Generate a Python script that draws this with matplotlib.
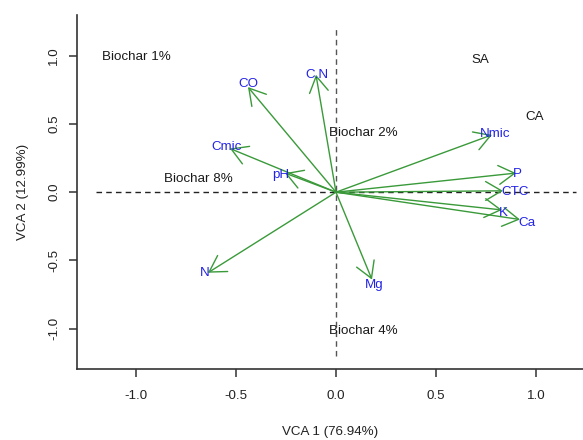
import matplotlib
matplotlib.use("Agg")
import matplotlib.pyplot as plt

plt.rcParams['font.family'] = ['Liberation Sans', 'DejaVu Sans']

# variable arrows (tips) and where their labels sit
var_names = ['CO', 'C.N', 'Cmic', 'pH', 'N', 'Mg', 'Nmic', 'P', 'CTC', 'K', 'Ca']
tip_x = [-0.44, -0.10, -0.53, -0.255, -0.64, 0.18, 0.78, 0.90, 0.835, 0.83, 0.92]
tip_y = [0.77, 0.86, 0.32, 0.14, -0.59, -0.64, 0.42, 0.14, 0.01, -0.13, -0.20]
lab_x = [-0.44, -0.097, -0.545, -0.277, -0.655, 0.19, 0.795, 0.905, 0.895, 0.835, 0.955]
lab_y = [0.79, 0.86, 0.33, 0.127, -0.59, -0.68, 0.425, 0.134, 0.005, -0.15, -0.225]

# treatments (sample scores)
site_names = ['Biochar 1%', 'SA', 'CA', 'Biochar 2%', 'Biochar 8%', 'Biochar 4%']
site_x = [-1.0, 0.72, 0.995, 0.135, -0.69, 0.135]
site_y = [0.99, 0.97, 0.55, 0.43, 0.10, -1.015]

green = '#3a9a3a'
blue = '#2323e6'
fs = 9.6

fig = plt.figure(figsize=(5.83, 4.4), dpi=100)
ax = fig.add_axes([0.132, 0.1607, 0.868, 0.805])

# dashed reference lines
ax.plot([-1.2, 1.2], [0, 0], color='#222222', ls=(0, (4, 3)), lw=1)
ax.plot([0, 0], [-1.2, 1.2], color='#555555', ls=(0, (4, 3)), lw=1)

for x, y in zip(tip_x, tip_y):
    ax.annotate('', xy=(x, y), xytext=(0, 0),
                arrowprops=dict(arrowstyle='->,head_length=1.15,head_width=0.68',
                                color=green, lw=1, shrinkA=0, shrinkB=0,
                                mutation_scale=10))

for name, x, y in zip(var_names, lab_x, lab_y):
    ax.text(x, y, name, color=blue, fontsize=fs, ha='center', va='center')

for name, x, y in zip(site_names, site_x, site_y):
    ax.text(x, y, name, color='#1a1a1a', fontsize=fs, ha='center', va='center')

ax.set_xlim(-1.295, 1.235)
ax.set_ylim(-1.297, 1.297)
ax.set_xticks([-1.0, -0.5, 0.0, 0.5, 1.0])
ax.set_yticks([-1.0, -0.5, 0.0, 0.5, 1.0])
ax.set_xticklabels(['-1.0', '-0.5', '0.0', '0.5', '1.0'])
ax.set_yticklabels(['-1.0', '-0.5', '0.0', '0.5', '1.0'], rotation=90, va='center')
ax.tick_params(direction='out', length=6, width=1.1, colors='#333333',
               labelsize=fs, labelcolor='#222222')
ax.tick_params(axis='x', pad=9)
ax.tick_params(axis='y', pad=6)

for s in ['top', 'right']:
    ax.spines[s].set_visible(False)
for s in ['left', 'bottom']:
    ax.spines[s].set_color('#333333')
    ax.spines[s].set_linewidth(1.2)

fig.text(0.566, 0.018, 'VCA 1 (76.94%)', fontsize=fs, color='#222222',
         ha='center', va='center')
fig.text(0.04, 0.563, 'VCA 2 (12.99%)', fontsize=fs, color='#222222',
         ha='center', va='center', rotation=90)

fig.savefig('out.png', dpi=100)
